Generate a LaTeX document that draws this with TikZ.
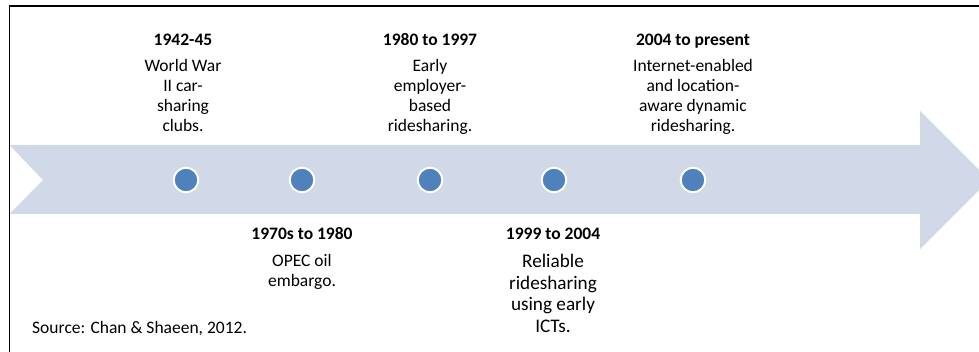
\documentclass[tikz,border=0pt]{standalone}
\usepackage{fontspec}
\setmainfont{Carlito}
\usepackage{xcolor}
\usetikzlibrary{positioning}

\definecolor{bandblue}{HTML}{D1D8E7}
\definecolor{dotblue}{HTML}{4F81BD}

\begin{document}
\begin{tikzpicture}[
  x=1pt, y=1pt,
  font=\fontsize{17.5}{19.8}\selectfont,
  band/.style={fill=bandblue},
  frame/.style={draw=black, line width=1.2pt},
  dot/.style={circle, fill=dotblue, draw=white, line width=2pt, minimum size=24.6pt, inner sep=0pt},
  year/.style={font=\fontsize{17.5}{19.8}\selectfont\bfseries, inner sep=0pt, text height=10.5pt, text depth=0pt},
  desc/.style={align=center, inner sep=0pt},
  bigdesc/.style={desc, font=\fontsize{19.2}{21.4}\selectfont},
  source/.style={anchor=west, inner sep=0pt}
]

\useasboundingbox (0,0) rectangle (979,352);
\clip (0,0) rectangle (979,352);

\fill[band] (9.5,207) -- (920,207) -- (920,241) -- (989,172) -- (920,103)
  -- (920,138) -- (9.5,138) -- (43,172) -- cycle;
\draw[frame] (9.5,0) -- (9.5,346) -- (979,346);

\node[dot] (d1) at (186,172) {};
\node[dot] (d2) at (302,172) {};
\node[dot] (d3) at (430,172) {};
\node[dot] (d4) at (554,172) {};
\node[dot] (d5) at (693,172) {};

\node[year] (y1) at (183,312) {1942-45};
\node[desc, below=14pt of y1] (t1) {World War\\II car-\\sharing\\clubs.};
\node[year] (y3) at (430,312) {1980 to 1997};
\node[desc, below=14pt of y3] (t3) {Early\\employer-\\based\\ridesharing.};
\node[year] (y5) at (693,312) {2004 to present};
\node[desc, below=14pt of y5] (t5) {Internet-enabled\\and location-\\aware dynamic\\ridesharing.};

\node[year] (y2) at (302,118) {1970s to 1980};
\node[desc, below=15pt of y2] (t2) {OPEC oil\\embargo.};
\node[year] (y4) at (553,118) {1999 to 2004};
\node[bigdesc, below=15pt of y4] (t4) {Reliable\\ridesharing\\using early\\ICTs.};

\node[source] (src) at (32,23) {Source: Chan \& Shaeen, 2012.};
\end{tikzpicture}
\end{document}
